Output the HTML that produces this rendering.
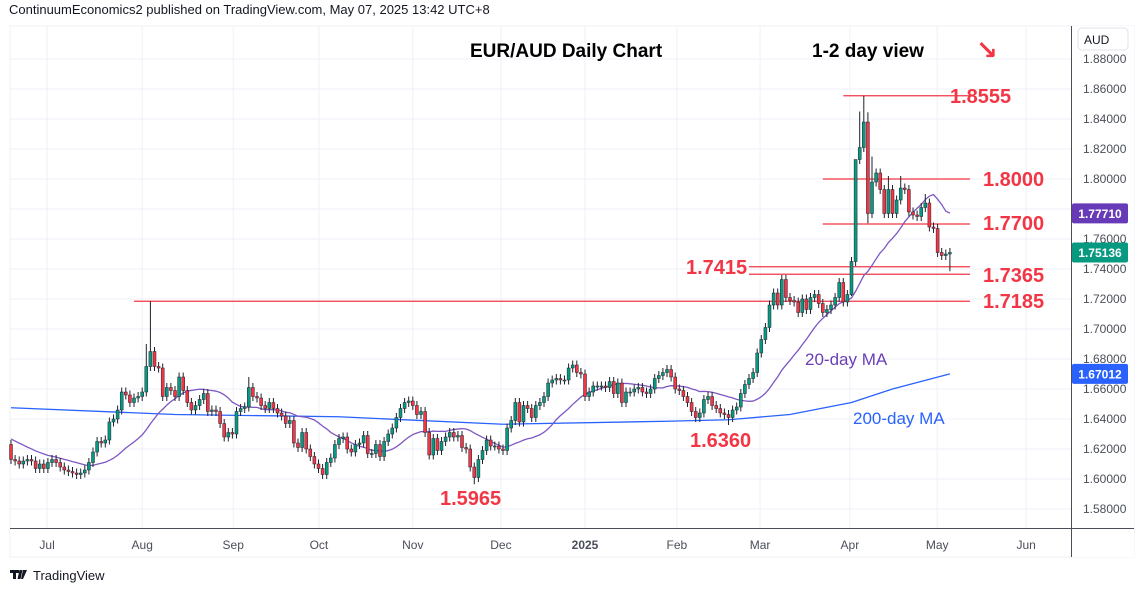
<!DOCTYPE html>
<html><head><meta charset="utf-8">
<style>
html,body{margin:0;padding:0;background:#fff;}
body{width:1143px;height:592px;overflow:hidden;font-family:"Liberation Sans","DejaVu Sans",sans-serif;}
svg text{font-family:"Liberation Sans","DejaVu Sans",sans-serif;}
</style></head>
<body>
<svg id="chart" width="1143" height="592" viewBox="0 0 1143 592">
  <text x="9" y="14" font-size="13" fill="#131722">ContinuumEconomics2 published on TradingView.com, May 07, 2025 13:42 UTC+8</text>
  <rect x="10" y="26" width="1124" height="531" fill="#fff" stroke="#eef0f3"/>
  <rect x="1072" y="26" width="62" height="531" fill="#fff"/>
  <g id="grid"></g>
  <g id="levels"></g>
  <g id="ma200"></g>
  <g id="ma20"></g>
  <g id="candles"></g>
  <g id="annot"></g>
  <line x1="1071.5" y1="26" x2="1071.5" y2="557" stroke="#4a4e59" stroke-width="1"/>
  <line x1="10" y1="528.5" x2="1134" y2="528.5" stroke="#4a4e59" stroke-width="1"/>
  <g id="yaxis"></g>
  <g id="xaxis"></g>
  <rect x="1078" y="28" width="50" height="22" rx="4" fill="#fff" stroke="#e0e3eb"/>
  <text x="1084" y="44" font-size="12" fill="#131722">AUD</text>
  <g>
    <path d="M10 570 h9 v3 h-3 v6 h-3 v-6 h-3 z M19.5 570 h3 l-2 9 h-3 z M23 570 h4 l-4 9 h-2 z" fill="#131722"/>
    <text x="33" y="580" font-size="13" fill="#131722">TradingView</text>
  </g>
</svg>
<script>
// ---- data ----
const closes = [
1.613,1.612,1.610,1.612,1.613,1.612,1.607,1.610,1.607,1.611,1.613,1.611,1.608,1.606,1.605,1.604,1.603,1.604,1.606,1.611,
1.618,1.625,1.624,1.626,1.638,1.640,1.646,1.658,1.656,1.651,1.654,1.655,1.658,1.675,1.685,1.675,1.674,1.655,1.661,1.659,
1.655,1.668,1.659,1.651,1.646,1.649,1.653,1.657,1.645,1.646,1.645,1.637,1.628,1.631,1.630,1.645,1.647,1.648,1.661,1.655,
1.654,1.649,1.647,1.651,1.647,1.644,1.642,1.637,1.639,1.624,1.621,1.631,1.620,1.615,1.610,1.607,1.603,1.611,1.614,1.623,
1.627,1.628,1.620,1.618,1.623,1.624,1.629,1.617,1.617,1.623,1.615,1.625,1.630,1.634,1.641,1.647,1.651,1.652,1.649,1.643,
1.645,1.631,1.616,1.627,1.619,1.625,1.628,1.631,1.628,1.629,1.621,1.620,1.608,1.601,1.613,1.619,1.626,1.622,1.622,1.620,
1.619,1.634,1.639,1.651,1.638,1.649,1.647,1.641,1.649,1.651,1.655,1.664,1.666,1.667,1.666,1.666,1.674,1.676,1.671,1.670,
1.655,1.658,1.662,1.662,1.662,1.661,1.665,1.657,1.664,1.651,1.658,1.658,1.660,1.661,1.658,1.657,1.660,1.667,1.669,1.671,
1.673,1.668,1.660,1.659,1.655,1.651,1.645,1.641,1.644,1.653,1.655,1.649,1.647,1.644,1.643,1.641,1.646,1.648,1.657,1.663,
1.667,1.671,1.684,1.693,1.701,1.716,1.724,1.716,1.733,1.721,1.719,1.718,1.711,1.720,1.713,1.721,1.723,1.717,1.711,1.713,
1.716,1.721,1.731,1.718,1.723,1.745,1.813,1.821,1.838,1.777,1.798,1.804,1.793,1.777,1.793,1.777,1.786,1.794,1.793,1.778,
1.776,1.775,1.781,1.784,1.768,1.767,1.751,1.749,1.750,1.751];
const firstOpen = 1.623;
const highOverrides = {0:1.626, 33:1.690, 34:1.7185, 58:1.668, 206:1.800, 207:1.845, 208:1.8555, 209:1.8445, 210:1.815, 214:1.802, 217:1.802, 223:1.790};
const lowOverrides = {76:1.600, 113:1.5965, 175:1.636, 205:1.722, 209:1.7705, 229:1.7385};
const priorCloses = [1.640,1.638,1.637,1.641,1.636,1.634,1.630,1.628,1.629,1.625,1.622,1.624,1.620,1.618,1.621,1.617,1.619,1.620,1.622];
const ma200Index = [0,40,80,120,160,175,190,205,215,229];
const ma200Values = [1.6475,1.6430,1.6415,1.6365,1.6385,1.6395,1.6430,1.6510,1.6600,1.6701];
const priceTicks = [1.58,1.60,1.62,1.64,1.66,1.68,1.70,1.72,1.74,1.76,1.78,1.80,1.82,1.84,1.86,1.88];
const monthLabels = ["Jul","Aug","Sep","Oct","Nov","Dec","2025","Feb","Mar","Apr","May","Jun"];
const monthIndex = [8.8,32,54.2,75.1,98,119.5,140,162.4,182.7,204.6,225.9,247.6];
const levelValues = [1.8555,1.8000,1.7700,1.7415,1.7365,1.7185];
const levelStartIndex = [203,198,198,180,180,30];
const levelLabels = ["1.8555","1.8000","1.7700","1.7415","1.7365","1.7185"];

// ---- scales ----
const Y0 = 89, VTOP = 1.86, PXPER = 1500;
function y(v){ return Y0 + (VTOP - v) * PXPER; }
function x(i){ return 11 + i * 4.1; }
const NS = "http://www.w3.org/2000/svg";
function mk(tag, attrs, parent){ const e=document.createElementNS(NS,tag); for(const k in attrs) e.setAttribute(k,attrs[k]); parent.appendChild(e); return e; }
const grid=document.getElementById('grid'), yaxis=document.getElementById('yaxis'), xaxis=document.getElementById('xaxis');

// grid + y-axis
priceTicks.forEach(t=>{
  const yy=y(t);
  if(yy<26||yy>528) return;
  const gl=mk('line',{x1:10,x2:1071,y1:yy,y2:yy,stroke:'#edf1f7','stroke-width':1},grid);
  
  
  const tx=mk('text',{x:1083,y:yy+4,'font-size':12,fill:'#4a4e59'},yaxis);
  
  
  tx.textContent=t.toFixed(5);
});
monthLabels.forEach((m,k)=>{
  const xx=x(monthIndex[k]);
  const gl=mk('line',{x1:xx,x2:xx,y1:26,y2:528,stroke:'#edf1f7','stroke-width':1},grid);
  
  
  const tx=mk('text',{x:xx,y:549,'font-size':12,fill:'#4a4e59','text-anchor':'middle','font-weight':m==='2025'?'bold':'normal'},xaxis);
  
  
  tx.textContent=m;
});

// levels
const lv=document.getElementById('levels');
levelValues.forEach((v,k)=>{
  const ln=mk('line',{x1:x(levelStartIndex[k]),x2:970,y1:y(v),y2:y(v),stroke:'#f23645','stroke-width':1.2},lv);
  
  
});

// 200 MA
const p200=ma200Index.map((i,k)=>x(i)+','+y(ma200Values[k])).join(' ');
const m200=mk('polyline',{points:p200,fill:'none',stroke:'#2962ff','stroke-width':1.3},document.getElementById('ma200'));



// 20 MA
const all=priorCloses.concat(closes);
const pts=[];
for(let i=0;i<closes.length;i++){
  let s=0; for(let j=i;j<i+20;j++) s+=all[j];
  pts.push(x(i)+','+y(s/20));
}
const m20=mk('polyline',{points:pts.join(' '),fill:'none',stroke:'#7e57c2','stroke-width':1.3},document.getElementById('ma20'));



// candles
const cg=document.getElementById('candles');
closes.forEach((c,i)=>{
  const o = i===0 ? firstOpen : closes[i-1];
  const hi = highOverrides[i]!==undefined ? highOverrides[i] : Math.max(o,c)+0.003;
  const lo = lowOverrides[i]!==undefined ? lowOverrides[i] : Math.min(o,c)-0.003;
  const up = c>=o;
  const col = up ? '#089981' : '#f23645';
  const w=mk('line',{x1:x(i),x2:x(i),y1:y(hi),y2:y(lo),stroke:'#1e222d','stroke-width':1},cg);
  
  
  const top=y(Math.max(o,c)), h=Math.max(1,Math.abs(y(o)-y(c)));
  const b=mk('rect',{x:x(i)-1.5,y:top,width:3,height:h,fill:col,stroke:'#1e222d','stroke-width':0.5},cg);
  
  
});

// annotations
const an=document.getElementById('annot');
function label(txt,xx,yy,size,color,weight,anchor,name){
  const t=mk('text',{x:xx,y:yy,'font-size':size,fill:color,'font-weight':weight,'text-anchor':anchor||'start'},an);
  
  
  t.textContent=txt; return t;
}
label('EUR/AUD Daily Chart',470,57,19,'#000','bold','start','chart-title');
label('1-2 day view',812,57,19,'#000','bold','start','view-label');
label('↘',976,59,26,'#f23645','bold','start','bearish-arrow');
const lvX=[950,983,983,686,983,983], lvAnchorY=[103,186,230,274,282,308];
levelLabels.forEach((s,k)=>label(s,lvX[k],lvAnchorY[k],20,'#f23645','bold','start','level-label-'+s));
label('1.6360',690,447,20,'#f23645','bold','start','low-label-1.6360');
label('1.5965',440,505,20,'#f23645','bold','start','low-label-1.5965');
label('20-day MA',805,365,17,'#6a3fb5','normal','start','ma20-label');
label('200-day MA',853,424,17,'#2962ff','normal','start','ma200-label');

// price tags
function tag(v,txt,color,name){
  const r=mk('rect',{x:1072,y:y(v)-10,width:56,height:20,rx:2,fill:color},yaxis);
  
  
  const t=mk('text',{x:1100,y:y(v)+4.5,'font-size':12,fill:'#fff','font-weight':'bold','text-anchor':'middle'},yaxis);
  
  
  t.textContent=txt;
}
let s20=0; for(let j=closes.length-20;j<closes.length;j++) s20+=closes[j];
tag(1.7771,'1.77710','#673ab7','ma20-price-tag');
tag(closes[closes.length-1],'1.75136','#089981','last-price-tag');
tag(ma200Values[ma200Values.length-1],'1.67012','#2962ff','ma200-price-tag');
</script>
</body></html>
